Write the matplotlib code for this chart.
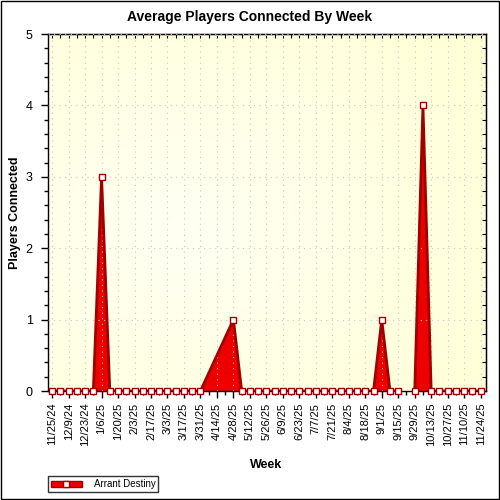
import matplotlib.pyplot as plt
import numpy as np
from matplotlib.colors import LinearSegmentedColormap
from matplotlib.lines import Line2D
from matplotlib.patches import Patch, Rectangle

plt.rcParams["font.family"] = ["Liberation Sans", "DejaVu Sans"]

# weekly samples starting 11/25/24 (53 weeks); None = no sample that week
players = [
    0, 0, 0, 0, 0, 0, 3, 0, 0, 0,
    0, 0, 0, 0, 0, 0, 0, 0, 0, None,
    None, None, 1, 0, 0, 0, 0, 0, 0, 0,
    0, 0, 0, 0, 0, 0, 0, 0, 0, 0,
    1, 0, 0, None, 0, 4, 0, 0, 0, 0,
    0, 0, 0,
]
# weeks where the plotted line is broken rather than bridged
line_breaks = [43]

tick_labels = [
    "11/25/24", "12/9/24", "12/23/24", "1/6/25", "1/20/25", "2/3/25", "2/17/25",
    "3/3/25", "3/17/25", "3/31/25", "4/14/25", "4/28/25", "5/12/25", "5/26/25",
    "6/9/25", "6/23/25", "7/7/25", "7/21/25", "8/4/25", "8/18/25", "9/1/25",
    "9/15/25", "9/29/25", "10/13/25", "10/27/25", "11/10/25", "11/24/25",
]
series_name = "Arrant Destiny"

fill_color = "#EE0000"
edge_color = "#A00000"

weeks = np.arange(len(players))

fig = plt.figure(figsize=(5, 5), dpi=100)
ax = fig.add_axes([48 / 500, 1 - 391 / 500, 438 / 500, 357 / 500])

# soft yellow background gradient
gx, gy = np.meshgrid(np.linspace(0, 1, 200), np.linspace(0, 1, 200))
grad = np.clip(np.sqrt((gx - 0.3) ** 2 + (gy - 0.45) ** 2) / 0.85, 0, 1)
cmap = LinearSegmentedColormap.from_list("bg", ["#FFFFF3", "#FFFFD6"])
ax.imshow(grad, cmap=cmap, extent=[0, 1, 0, 1], transform=ax.transAxes,
          aspect="auto", zorder=0, origin="lower")

# split into segments at breaks, skipping weeks without samples
segments = []
current = []
for w, v in zip(weeks, players):
    if w in line_breaks:
        if current:
            segments.append(current)
        current = []
        continue
    if v is not None:
        current.append((w, v))
if current:
    segments.append(current)

for seg in segments:
    xs = np.array([p[0] for p in seg], dtype=float)
    ys = np.array([p[1] for p in seg], dtype=float)
    ax.fill_between(xs, 0, ys, color=fill_color, lw=0, zorder=2)
    ax.plot(xs, ys, color=edge_color, lw=2, zorder=3)
    ax.plot(xs, ys, ls="none", marker="s", ms=5, mfc="white",
            mec=edge_color, mew=1, zorder=4, clip_on=False)

ax.set_xlim(-0.5, 52.65)
ax.set_ylim(0, 5)

ax.set_xticks(weeks[::2])
ax.set_xticklabels(tick_labels, rotation=90, fontsize=8)
ax.set_xticks(weeks, minor=True)
ax.set_yticks(range(6))
ax.set_yticks(np.arange(0, 5.01, 0.2), minor=True)
ax.tick_params(axis="y", labelsize=9, pad=6)

ax.tick_params(axis="both", which="major", direction="out", length=5, width=1)
ax.tick_params(axis="both", which="minor", direction="out", length=3, width=1)
ax.tick_params(which="both", top=True, right=True)

# inward ticks on top and right via secondary axes
for spine in ax.spines.values():
    spine.set_linewidth(1)
    spine.set_color("black")
ax.tick_params(which="both", top=False, right=False)
sec_x = ax.secondary_xaxis("top")
sec_x.set_xticks(weeks)
sec_x.tick_params(direction="in", length=3, labeltop=False)
sec_x.set_xticklabels([])
sec_y = ax.secondary_yaxis("right")
sec_y.set_yticks(np.arange(0, 5.01, 0.2))
sec_y.tick_params(direction="in", length=3, labelright=False)
sec_y.set_yticklabels([])

ax.grid(True, which="major", color="#C8C8C8", lw=0.8, ls=(0, (1, 4)), zorder=1)
ax.set_axisbelow(False)

fig.text(0.5, 1 - 17 / 500, "Average Players Connected By Week",
         ha="center", va="center", fontsize=10, fontweight="bold")
fig.text(266 / 500, 1 - 465 / 500, "Week", ha="center", va="center",
         fontsize=9, fontweight="bold")
fig.text(15 / 500, 1 - 213 / 500, "Players Connected", ha="center", va="center",
         rotation=90, fontsize=9, fontweight="bold")

handle = (Patch(facecolor=fill_color, edgecolor=edge_color, lw=1),
          Line2D([], [], ls="none", marker="s", ms=5, mfc="white",
                 mec=edge_color, mew=1))
leg = fig.legend([handle], [series_name], loc="lower left",
                 bbox_to_anchor=(48 / 500, 1 - 492 / 500), fontsize=7,
                 frameon=True, fancybox=False, edgecolor="black",
                 borderpad=0.3, handlelength=3.2, handleheight=0.6,
                 handletextpad=1.2, borderaxespad=0)
leg.get_frame().set_linewidth(1)

fig.patches.append(Rectangle((0.002, 0.002), 0.996, 0.996, transform=fig.transFigure,
                             fill=False, edgecolor="black", lw=1))

fig.savefig("out.png", dpi=100)
